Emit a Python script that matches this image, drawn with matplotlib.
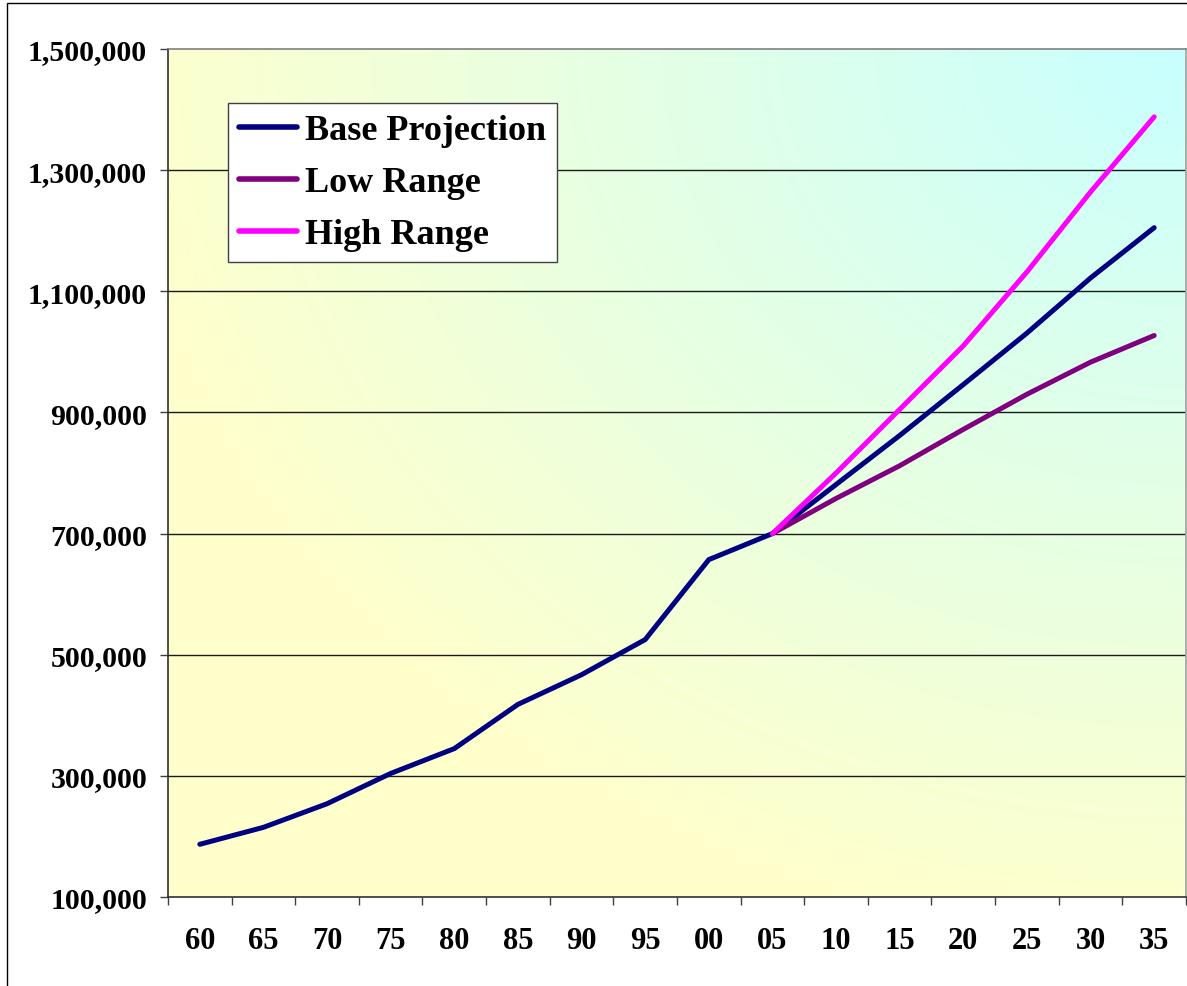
import numpy as np
import matplotlib
matplotlib.use("Agg")
import matplotlib.pyplot as plt
from matplotlib.patches import Rectangle
from matplotlib.ticker import FixedLocator, StrMethodFormatter

plt.rcParams['font.family'] = ['Liberation Serif', 'DejaVu Serif']
plt.rcParams['font.weight'] = 'bold'

# population by census / projection year
years = ['60', '65', '70', '75', '80', '85', '90', '95',
         '00', '05', '10', '15', '20', '25', '30', '35']
base = [187000, 215000, 254000, 304000, 345000, 418000, 467000, 525000,
        657000, 700000, 781000, 862000, 946000, 1031000, 1122000, 1205000]
nan = np.nan
low = [nan] * 9 + [700000, 758000, 812000, 872000, 930000, 983000, 1027000]
high = [nan] * 9 + [700000, 800000, 905000, 1010000, 1132000, 1264000, 1388000]

fig = plt.figure(figsize=(11.87, 9.87), dpi=100)
fig.patch.set_facecolor('white')
ax = fig.add_axes([168 / 1187, 89 / 987, 1018 / 1187, 848 / 987])

x = np.arange(len(years))

# corner gradient fill: cyan in the top right fading to pale yellow
gx, gy = np.meshgrid(np.linspace(0, 1, 400), np.linspace(0, 1, 400))
d = np.clip(np.sqrt((1 - gx) ** 2 + (1 - gy) ** 2) / 1.05, 0, 1)
cyan = np.array([200, 255, 255]) / 255
yellow = np.array([255, 255, 204]) / 255
grad = cyan + (yellow - cyan) * d[..., None]
ax.imshow(grad, extent=[0, 1, 0, 1], origin='lower', transform=ax.transAxes,
          aspect='auto', zorder=0, interpolation='bilinear')

ax.plot(x, base, color='#000080', lw=3.6, solid_capstyle='round',
        solid_joinstyle='miter', label='Base Projection', zorder=3)
ax.plot(x, low, color='#800080', lw=3.6, solid_capstyle='round',
        label='Low Range', zorder=3)
ax.plot(x, high, color='#FF00FF', lw=3.6, solid_capstyle='round',
        label='High Range', zorder=4)

ax.set_xlim(-0.5, len(years) - 0.5)
ax.set_ylim(100000, 1500000)

ax.set_yticks(np.arange(100000, 1500001, 200000))
ax.yaxis.set_major_formatter(StrMethodFormatter('{x:,.0f}'))
for yv in range(300000, 1400000, 200000):
    ax.axhline(yv, color='#1a1a1a', lw=1.0, zorder=1)

ax.set_xticks(x)
ax.set_xticklabels(years)
ax.xaxis.set_minor_locator(FixedLocator(np.arange(-0.5, len(years), 1.0)))
ax.tick_params(axis='x', which='major', length=0, pad=21, labelsize=22)
ax.tick_params(axis='x', which='minor', length=6, width=1, color='#404040',
               direction='out')
ax.tick_params(axis='y', length=6, width=1, color='#404040', pad=9,
               labelsize=21.5)

ax.spines['left'].set_color('#303030')
ax.spines['bottom'].set_color('#303030')
ax.spines['top'].set_color('#808080')
ax.spines['right'].set_color('#a0a0a0')
for s in ax.spines.values():
    s.set_linewidth(1.2)

leg = ax.legend(loc='upper left', bbox_to_anchor=(0.059, 0.936),
                borderaxespad=0, fancybox=False, framealpha=1,
                edgecolor='#404040', fontsize=26, handlelength=1.6,
                handletextpad=0.22, borderpad=0.3, labelspacing=0.52)
leg.get_frame().set_linewidth(1.0)
for line in leg.get_lines():
    line.set_linewidth(4)

# outer chart border
fig.patches.append(Rectangle((7 / 1187, -0.01), 1.1, 1 - 4 / 987 + 0.01,
                             transform=fig.transFigure, fill=False,
                             edgecolor='black', lw=1.0))

fig.savefig('out.png', dpi=100)
